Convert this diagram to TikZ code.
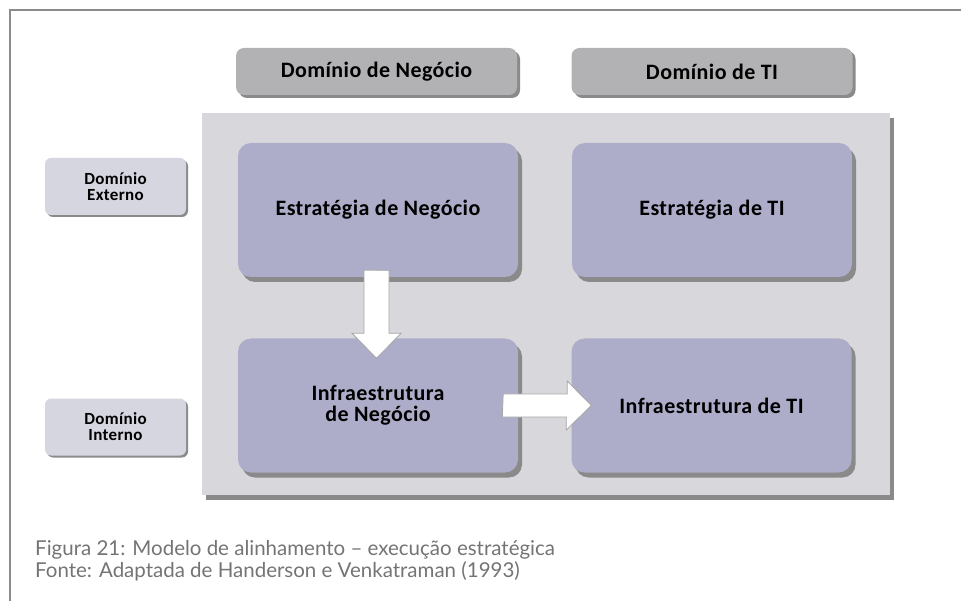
\documentclass[tikz,border=0pt]{standalone}
\usepackage{fontspec}
\setmainfont{Carlito}[LetterSpace=2]
\newfontfamily\capfont{Lato}
\usetikzlibrary{shadows}

\definecolor{framegray}{HTML}{8C8C8C}
\definecolor{headfill}{HTML}{B2B2B4}
\definecolor{panelfill}{HTML}{D8D8DC}
\definecolor{boxfill}{HTML}{ADADCA}
\definecolor{sidefill}{HTML}{D6D6E0}
\definecolor{shadowgray}{HTML}{8A8A8A}
\definecolor{captext}{HTML}{747474}

\begin{document}
\begin{tikzpicture}[x=1pt,y=-1pt,
    head/.style={rounded corners=8pt, fill=headfill, minimum width=281pt, minimum height=47pt,
        font=\fontsize{22}{24}\selectfont\bfseries,
        drop shadow={shadow xshift=3pt,shadow yshift=-3pt,fill=shadowgray,opacity=1}},
    box/.style={rounded corners=13pt, fill=boxfill, minimum width=280pt, minimum height=134pt,
        align=center, font=\fontsize{22}{21}\selectfont\bfseries,
        drop shadow={shadow xshift=4pt,shadow yshift=-5pt,fill=shadowgray,opacity=1}},
    side/.style={rounded corners=6pt, fill=sidefill, minimum width=141pt, minimum height=57pt,
        align=center, font=\fontsize{17}{16}\selectfont\bfseries,
        drop shadow={shadow xshift=2pt,shadow yshift=-2pt,fill=shadowgray,opacity=1}},
    blockarrow/.style={fill=white, draw=gray!70, line width=0.8pt, line join=miter},
    capt/.style={anchor=base west, inner sep=0pt, text=captext, font=\capfont\fontsize{20.5}{22}\selectfont}]

    \useasboundingbox (0,0) rectangle (961,601);
    \draw [framegray, line width=2pt] (10,601) -- (10,10) -- (961,10);

    \node [head] (hneg) at (376.5, 71.5) {Domínio de Negócio};
    \node [head] (hti) at (712, 71.5) {Domínio de TI};

    \node [fill=panelfill, minimum width=688pt, minimum height=382pt,
        drop shadow={shadow xshift=4pt,shadow yshift=-5pt,fill=shadowgray,opacity=1}] (panel) at (546, 304) {};

    \node [side] (ext) at (115.5, 186.5) {Domínio\\Externo};
    \node [side] (int) at (115.5, 427) {Domínio\\Interno};

    \node [box] (eneg) at (378, 210) {Estratégia de Negócio};
    \node [box] (eti) at (712, 210) {Estratégia de TI};
    \node [box] (ineg) at (378, 405.5) {Infraestrutura\\de Negócio};
    \node [box] (iti) at (711.5, 405.5) {Infraestrutura de TI};

    \path ([xshift=-1.5pt,yshift=7pt]eneg.south) coordinate (d1)
          ([xshift=-1.5pt,yshift=-20pt]ineg.north) coordinate (d2);
    \draw [blockarrow] (d1) ++(-12.5,0) -- ++(0,63) -- ++(-12,0) -- (d2)
        -- ++(24.5,-25) -- ++(-12,0) -- ++(0,-63) -- cycle;

    \path ([xshift=-15pt]ineg.east) coordinate (r1)
          ([xshift=20pt]iti.west) coordinate (r2);
    \draw [blockarrow] (r1) ++(0,-11.5) -- ++(64,0) -- ++(0,-13) -- (r2)
        -- ++(-25,24.5) -- ++(0,-13) -- ++(-64,0) -- cycle;

    \node [capt] (cap1) at (35, 555) {Figura 21: Modelo de alinhamento – execução estratégica};
    \node [capt] (cap2) at (35, 577) {Fonte: Adaptada de Handerson e Venkatraman (1993)};

\end{tikzpicture}
\end{document}
